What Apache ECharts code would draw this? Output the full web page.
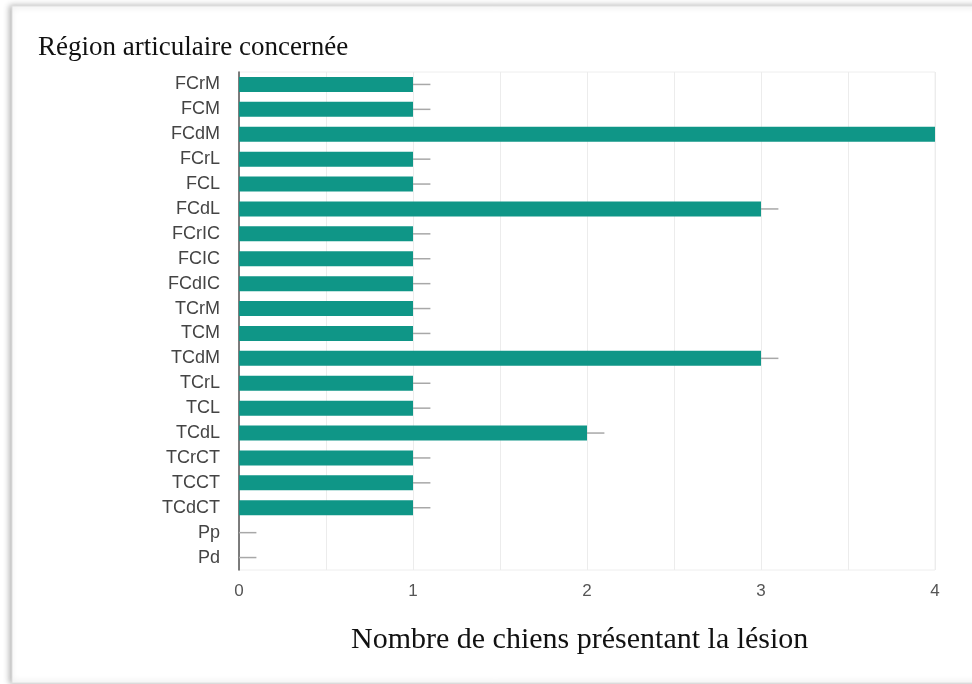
<!DOCTYPE html>
<html>
<head>
<meta charset="utf-8">
<script src="https://cdn.jsdelivr.net/npm/echarts@6/dist/echarts.min.js"></script>
<style>
html,body{margin:0;padding:0;background:#fff;}
#chart{width:972px;height:684px;}
</style>
</head>
<body>
<div id="chart"></div>
<script>
const categories = ['FCrM','FCM','FCdM','FCrL','FCL','FCdL','FCrIC','FCIC','FCdIC','TCrM','TCM','TCdM','TCrL','TCL','TCdL','TCrCT','TCCT','TCdCT','Pp','Pd'];
const values = [1,1,4,1,1,3,1,1,1,1,1,3,1,1,2,1,1,1,0,0];
const xTicks = [0,1,2,3,4];
const whiskerLen = 0.1;

const chart = echarts.init(document.getElementById('chart'), null, {renderer:'canvas'});
chart.setOption({
  animation:false,
  backgroundColor:'#fff',
  graphic:[
    {type:'rect', z:-10, shape:{x:12,y:6,width:975,height:677},
     style:{fill:'#fff', stroke:'#e0e0e0', lineWidth:1, shadowBlur:6, shadowColor:'rgba(0,0,0,0.3)', shadowOffsetX:-2}},
    {type:'text', left:38, top:34, style:{text:'Région articulaire concernée', font:'27px "Liberation Serif", serif', fill:'#111'}},
    {type:'text', left:351, top:625, style:{text:'Nombre de chiens présentant la lésion', font:'30px "Liberation Serif", serif', fill:'#111'}}
  ],
  grid:{left:239, right:37, top:72, bottom:114, show:true, borderColor:'#eeeeee', borderWidth:1},
  xAxis:{
    type:'value', min:0, max:4, interval:0.5,
    axisLine:{show:false}, axisTick:{show:false},
    splitLine:{show:true, lineStyle:{color:'#ececec', width:1}},
    axisLabel:{margin:13, color:'#555', fontSize:17, fontFamily:'Liberation Sans, Arial, sans-serif',
      formatter:function(v){return xTicks.indexOf(v)>=0 ? String(v) : '';}}
  },
  yAxis:{
    type:'category', data:categories, inverse:true,
    axisLine:{show:true, lineStyle:{color:'#555', width:1.5}},
    axisTick:{show:false},
    axisLabel:{margin:19, color:'#444', fontSize:18, fontFamily:'Liberation Sans, Arial, sans-serif'}
  },
  series:[
    {type:'custom', z:1, clip:true,
     renderItem:function(params, api){
       const v = api.value(0), idx = api.value(1);
       const p1 = api.coord([v, idx]);
       const p2 = api.coord([Math.min(v+whiskerLen, 4), idx]);
       return {type:'line', shape:{x1:p1[0], y1:p1[1], x2:p2[0], y2:p2[1]}, style:{stroke:'#a8a8a8', lineWidth:1.5}};
     },
     encode:{x:0, y:1},
     data:values.map(function(v,i){return [v,i];})
    },
    {type:'bar', z:2, data:values, barWidth:15,
     itemStyle:{color:'#0f9687'}}
  ]
});
</script>
</body>
</html>
